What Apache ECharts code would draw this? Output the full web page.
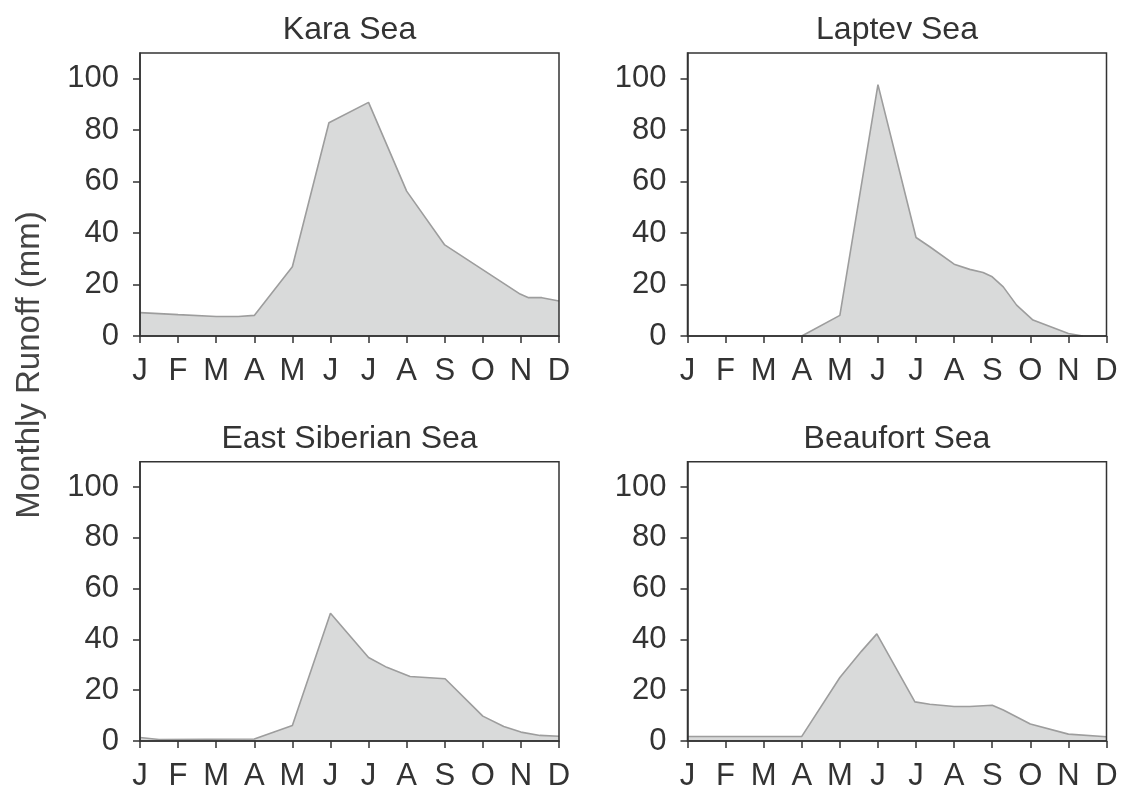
<!DOCTYPE html>
<html>
<head>
<meta charset="utf-8">
<script src="https://cdn.jsdelivr.net/npm/echarts@6/dist/echarts.min.js"></script>
<style>
  html, body { margin: 0; padding: 0; background: #ffffff; }
  #chart { width: 1121px; height: 792px; }
</style>
</head>
<body>
<div id="chart"></div>
<script>
// Month tick labels (x = 0 .. 11)
const monthLabels = ['J', 'F', 'M', 'A', 'M', 'J', 'J', 'A', 'S', 'O', 'N', 'D'];
const yTicks = [0, 20, 40, 60, 80, 100];

// Panel titles
const seaNames = ['Kara Sea', 'Laptev Sea', 'East Siberian Sea', 'Beaufort Sea'];

// Runoff curves: position in months (0 = J) and runoff in mm
const karaMonth   = [0, 1, 2, 2.58, 3, 4, 4.96, 6, 7, 8, 9.98, 10.2, 10.55, 11];
const karaRunoff  = [9.1, 8.3, 7.6, 7.6, 8.0, 26.9, 82.9, 90.8, 56.3, 35.4, 16.3, 14.9, 14.9, 13.6];

const laptevMonth  = [3, 4, 5, 6, 6.36, 7, 7.41, 7.76, 8.0, 8.29, 8.64, 9.07, 10, 10.38];
const laptevRunoff = [0, 8.0, 97.7, 38.3, 34.7, 27.9, 25.9, 24.7, 23.0, 19.1, 12.0, 6.2, 1.0, 0];

const eSiberianMonth  = [0, 0.5, 3, 4, 5, 6, 6.48, 7.09, 8.01, 9, 9.55, 10, 10.5, 11];
const eSiberianRunoff = [1.4, 0.6, 0.8, 6.1, 50.3, 32.9, 29, 25.4, 24.5, 9.8, 5.7, 3.5, 2.2, 1.9];

const beaufortMonth  = [0, 3, 4, 4.57, 4.97, 5.97, 6.36, 7, 7.41, 8, 8.29, 9, 10, 11];
const beaufortRunoff = [1.8, 1.8, 25, 35.4, 42.2, 15.4, 14.5, 13.6, 13.6, 14.1, 12.2, 6.7, 2.7, 1.7];

const monthSets  = [karaMonth, laptevMonth, eSiberianMonth, beaufortMonth];
const runoffSets = [karaRunoff, laptevRunoff, eSiberianRunoff, beaufortRunoff];

// Panel placement (pixels)
const panels = [
  { left: 140,   top: 53,    width: 419, height: 283 },
  { left: 687.5, top: 53,    width: 419, height: 283 },
  { left: 140,   top: 461.7, width: 419, height: 283 },
  { left: 687.5, top: 461.7, width: 419, height: 283 }
];

const FONT = '"Liberation Sans", Arial, Helvetica, sans-serif';
const INK = '#333333';

const grids = [], xAxes = [], yAxes = [], series = [], graphics = [];

panels.forEach((p, i) => {
  grids.push({
    left: p.left, top: p.top, width: p.width, height: p.height,
    show: true, borderColor: INK, borderWidth: 1.5,
    backgroundColor: 'transparent', z: 10
  });
  xAxes.push({
    type: 'value', gridIndex: i, min: 0, max: 11, interval: 1,
    z: 10,
    axisLine: { show: true, onZero: false, lineStyle: { color: INK, width: 1.5 } },
    axisTick: { show: true, length: 7, lineStyle: { color: INK, width: 1.5 } },
    splitLine: { show: false },
    axisLabel: {
      margin: 20, color: INK, fontSize: 31, fontFamily: FONT,
      formatter: v => monthLabels[Math.round(v)]
    }
  });
  yAxes.push({
    type: 'value', gridIndex: i, min: 0, max: 110, interval: 20,
    z: 10,
    axisLine: { show: true, lineStyle: { color: INK, width: 1.5 } },
    axisTick: { show: true, length: 7, customValues: yTicks, lineStyle: { color: INK, width: 1.5 } },
    splitLine: { show: false },
    axisLabel: {
      margin: 21, color: INK, fontSize: 31, fontFamily: FONT,
      customValues: yTicks
    }
  });
  series.push({
    type: 'line', xAxisIndex: i, yAxisIndex: i,
    data: monthSets[i].map((m, k) => [m, runoffSets[i][k]]),
    showSymbol: false, symbol: 'none', z: 2,
    lineStyle: { color: '#9d9d9d', width: 1.6 },
    areaStyle: { color: '#d9dada', opacity: 1, origin: 'start' }
  });
  graphics.push({
    type: 'text',
    x: p.left + p.width / 2,
    y: p.top - 23,
    style: {
      text: seaNames[i], fill: INK, font: '32px ' + FONT,
      textAlign: 'center', textVerticalAlign: 'middle'
    }
  });
});

graphics.push({
  type: 'text',
  x: 30, y: 365, rotation: Math.PI / 2,
  style: {
    text: 'Monthly Runoff (mm)', fill: '#444444', font: '33px ' + FONT,
    textAlign: 'center', textVerticalAlign: 'middle'
  }
});

const chart = echarts.init(document.getElementById('chart'), null, { renderer: 'canvas' });
chart.setOption({
  animation: false,
  backgroundColor: '#ffffff',
  grid: grids,
  xAxis: xAxes,
  yAxis: yAxes,
  series: series,
  graphic: graphics
});
</script>
</body>
</html>
